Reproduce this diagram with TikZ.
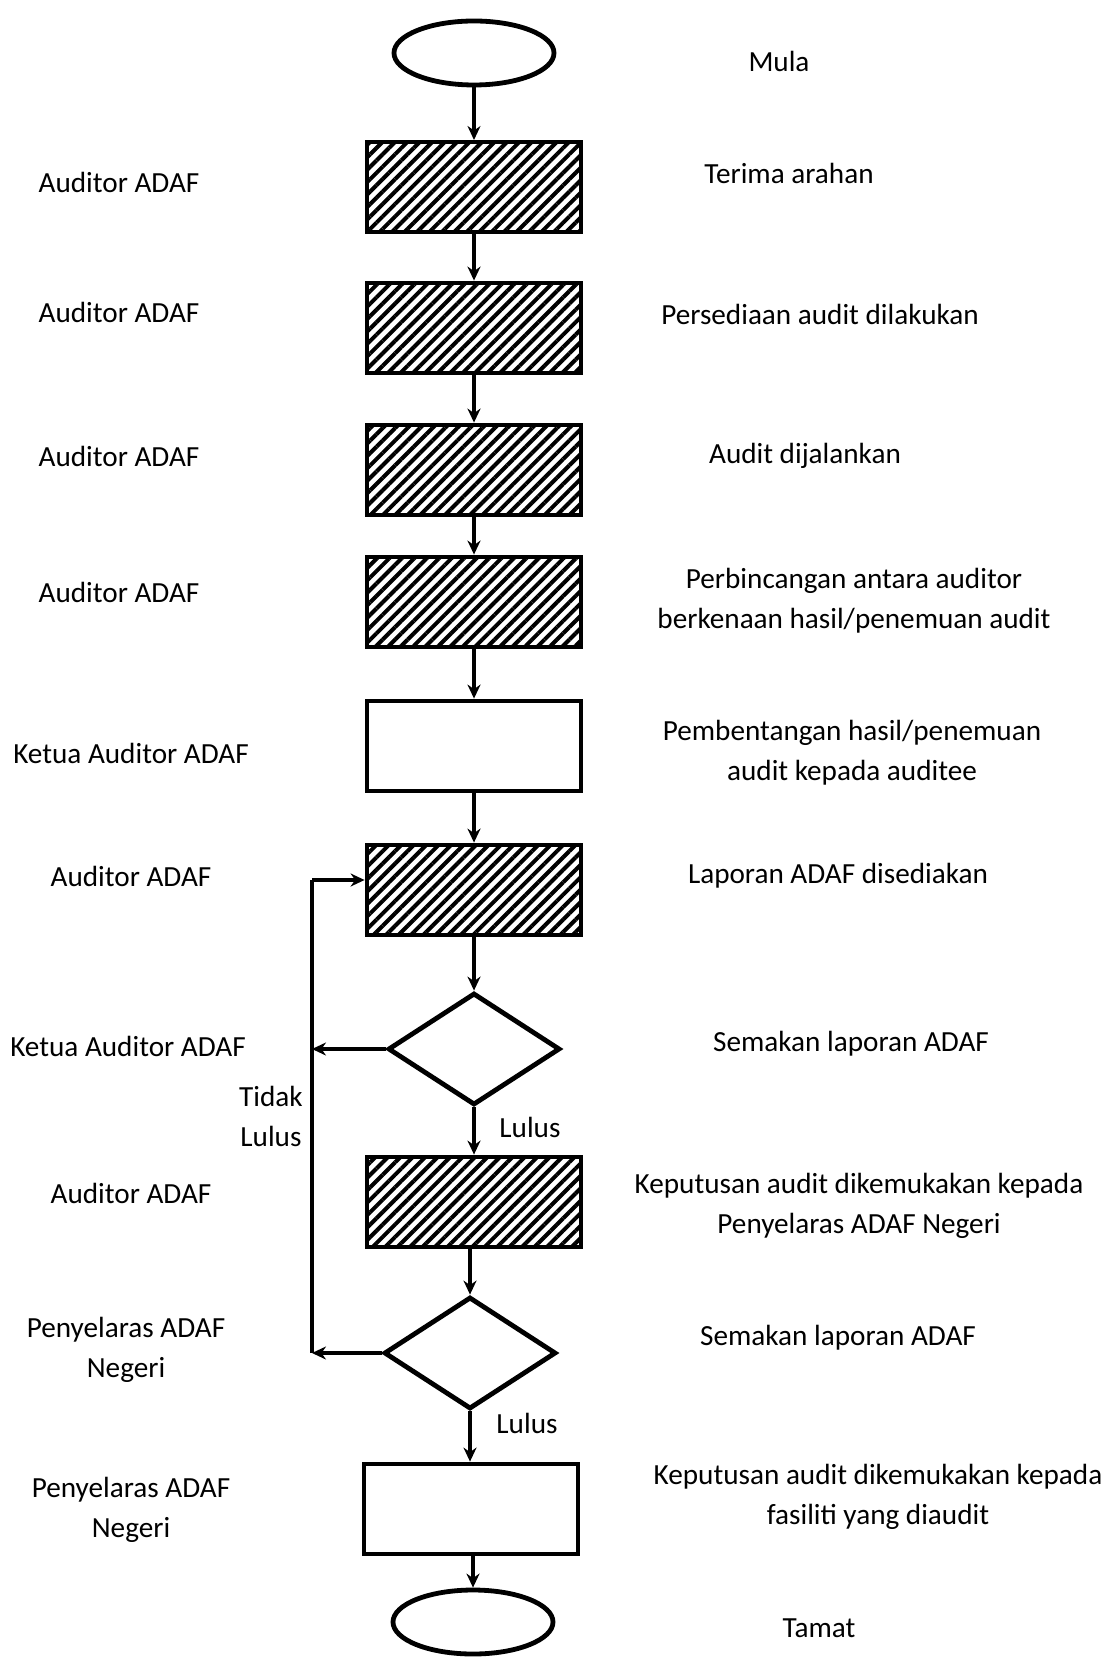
\documentclass[tikz,border=0pt]{standalone}
\usepackage{fontspec}
\setmainfont{Carlito}
\usetikzlibrary{shapes.geometric}
\usetikzlibrary{patterns.meta}
\usetikzlibrary{arrows.meta}

\begin{document}
\begin{tikzpicture}[x=0.5pt,y=-0.5pt]
\tikzset{every node/.style={font=\fontsize{14.6}{20}\selectfont}}
\tikzset{stepbox/.style={rectangle, draw, line width=2.4pt, minimum width=107pt, minimum height=45pt, inner sep=0pt}}
\tikzset{hatched/.style={stepbox, pattern={Lines[angle=45,distance=4.4pt,line width=2pt]}}}
\tikzset{term/.style={ellipse, draw, line width=2.4pt, minimum width=80pt, minimum height=32pt, inner sep=0pt}}
\tikzset{check/.style={diamond, draw, line width=2.4pt, minimum width=86pt, minimum height=56pt, inner sep=0pt}}
\tikzset{flow/.style={-{Stealth[length=7pt,width=6.5pt]}, line width=2pt}}
\useasboundingbox (0,0) rectangle (1111,1657);

% boxes of the flow
\node[term] (start) at (474,53) {};
\node[hatched] (b1) at (474,187) {};
\node[hatched] (b2) at (474,328) {};
\node[hatched] (b3) at (474,470) {};
\node[hatched] (b4) at (474,602) {};
\node[stepbox] (b5) at (474,746) {};
\node[hatched] (b6) at (474,890) {};
\node[check] (d1) at (474,1049) {};
\node[hatched] (b7) at (474,1202) {};
\node[check] (d2) at (470,1353) {};
\node[stepbox] (b8) at (471,1509) {};
\node[term] (end) at (473,1622) {};

\draw (start) edge[flow] (b1);
\draw (b1) edge[flow] (b2);
\draw (b2) edge[flow] (b3);
\draw (b3) edge[flow] (b4);
\draw (b4) edge[flow] (b5);
\draw (b5) edge[flow] (b6);
\draw (b6) edge[flow] (d1);
\draw (d1.south) edge[flow] (d1.south |- b7.north);
\draw (b7.south -| d2.north) edge[flow] (d2.north);
\draw (d2.south) edge[flow] (d2.south |- b8.north);
\draw (b8.south -| end.north) edge[flow] (end.north);

% loop back
\coordinate (back) at (312,880);
\coordinate (backend) at (312,1353);
\draw[line width=2pt] (back) -- (backend);
\draw (back) edge[flow] (back -| b6.west);
\draw (d1.west) edge[flow] (back |- d1.west);
\draw (d2.west) edge[flow] (backend);

\path (530,1127) node (lulus1) {Lulus};
\path (527,1423) node (lulus2) {Lulus};
\path (271,1116) node[align=center] (tidak) {Tidak\\Lulus};

% what happens
\path (779,61) node (t0) {Mula};
\path (789,173) node (t1) {Terima arahan};
\path (820,314) node (t2) {Persediaan audit dilakukan};
\path (805,456) node (t3) {Audit dijalankan};
\path (854,601) node[align=center] (t4) {Perbincangan antara auditor\\berkenaan hasil/penemuan audit};
\path (852,753) node[align=center] (t5) {Pembentangan hasil/penemuan\\audit kepada auditee};
\path (838,876) node (t6) {Laporan ADAF disediakan};
\path (851,1044) node (t7) {Semakan laporan ADAF};
\path (859,1206) node[align=center] (t8) {Keputusan audit dikemukakan kepada\\Penyelaras ADAF Negeri};
\path (838,1338) node (t9) {Semakan laporan ADAF};
\path (878,1497) node[align=center] (t10) {Keputusan audit dikemukakan kepada\\fasiliti yang diaudit};
\path (819,1628) node (t11) {Tamat};

% who does it
\path (119,182) node (w1) {Auditor ADAF};
\path (119,312) node (w2) {Auditor ADAF};
\path (119,456) node (w3) {Auditor ADAF};
\path (119,592) node (w4) {Auditor ADAF};
\path (131,753) node (w5) {Ketua Auditor ADAF};
\path (131,876) node (w6) {Auditor ADAF};
\path (128,1046) node (w7) {Ketua Auditor ADAF};
\path (131,1193) node (w8) {Auditor ADAF};
\path (126,1350) node[align=center] (w9) {Penyelaras ADAF\\Negeri};
\path (131,1510) node[align=center] (w10) {Penyelaras ADAF\\Negeri};

\end{tikzpicture}
\end{document}
